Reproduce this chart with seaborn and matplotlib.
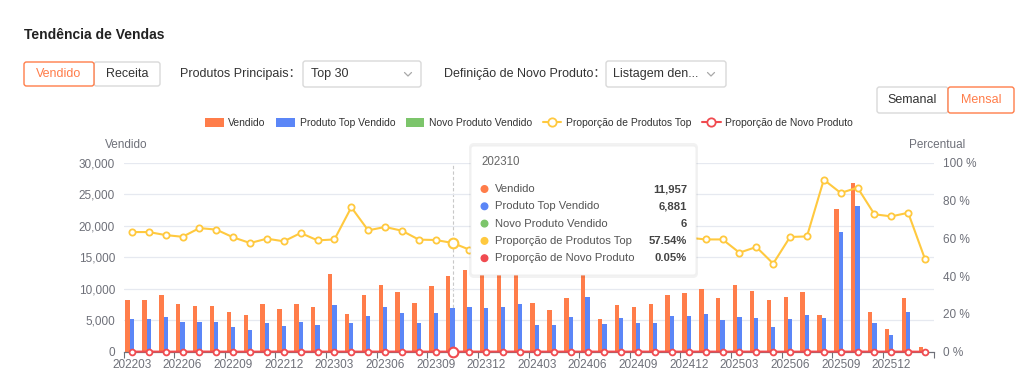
import numpy as np
import pandas as pd
import matplotlib
matplotlib.use("Agg")
import matplotlib.pyplot as plt
import seaborn as sns
from matplotlib.patches import FancyBboxPatch, Patch
from matplotlib.lines import Line2D

months = ['202203', '202204', '202205', '202206', '202207', '202208', '202209', '202210',
          '202211', '202212', '202301', '202302', '202303', '202304', '202305', '202306',
          '202307', '202308', '202309', '202310', '202311', '202312', '202401', '202402',
          '202403', '202404', '202405', '202406', '202407', '202408', '202409', '202410',
          '202411', '202412', '202501', '202502', '202503', '202504', '202505', '202506',
          '202507', '202508', '202509', '202510', '202511', '202512', '202601', '202602']

vendido = [8150, 8250, 8940, 7620, 7250, 7300, 6350, 5770, 7620, 6770, 7510, 7140,
           12280, 5980, 8940, 10640, 9520, 7780, 10370, 11957, 12960, 12800, 13100, 12600,
           7670, 6610, 8465, 12900, 5130, 7355, 7140, 7620, 8940, 9260, 9980, 8600,
           10550, 9680, 8200, 8625, 9470, 5870, 22650, 26720, 6300, 3650, 8570, 690]

top_vendido = [5185, 5240, 5555, 4656, 4760, 4710, 3860, 3390, 4550, 4020, 4710, 4180,
               7355, 4550, 5715, 7035, 6085, 4600, 6085, 6881, 7035, 6880, 7035, 7565,
               4180, 4230, 5500, 8625, 4390, 5340, 4550, 4600, 5610, 5660, 5950, 5050,
               5555, 5345, 3860, 5185, 5770, 5290, 18995, 23120, 4550, 2590, 6245, 0]

novo_vendido = [3, 5, 2, 4, 6, 3, 2, 1, 4, 5, 3, 2, 8, 3, 4, 6, 5, 3, 4, 6, 7, 5, 9, 6,
                3, 2, 4, 5, 3, 2, 4, 3, 5, 4, 6, 3, 4, 5, 3, 2, 4, 3, 12, 15, 4, 2, 3, 0]

prop_top = [63.3, 63.3, 61.7, 60.8, 65.4, 64.6, 60.5, 57.5, 59.8, 58.4, 62.8, 58.9,
            59.4, 76.4, 64.2, 66.0, 64.0, 59.3, 59.1, 57.54, 54.0, 53.8, 53.7, 60.0,
            54.5, 64.0, 65.0, 66.9, 85.6, 72.6, 63.7, 60.4, 62.7, 60.3, 59.4, 59.4,
            52.4, 55.4, 46.6, 60.7, 61.0, 91.0, 84.0, 86.8, 72.7, 71.6, 73.5, 48.9]

prop_novo = [0.04, 0.06, 0.02, 0.05, 0.08, 0.04, 0.03, 0.02, 0.05, 0.07, 0.04, 0.03,
             0.06, 0.05, 0.04, 0.06, 0.05, 0.04, 0.04, 0.05, 0.05, 0.04, 0.07, 0.05,
             0.04, 0.03, 0.05, 0.04, 0.06, 0.03, 0.06, 0.04, 0.06, 0.04, 0.06, 0.03,
             0.04, 0.05, 0.04, 0.02, 0.04, 0.05, 0.05, 0.06, 0.06, 0.05, 0.03, 0.0]

series_names = ['Vendido', 'Produto Top Vendido', 'Novo Produto Vendido']
line_names = ['Proporção de Produtos Top', 'Proporção de Novo Produto']
hover = months.index('202310')

ORANGE = '#FF7D4A'
BLUE = '#5B86F7'
GREEN = '#7CC56B'
YELLOW = '#FFC93F'
RED = '#F04B50'
AXIS_TXT = '#6E7079'
GRID = '#E6E9F0'

sns.set_theme(style='white')
plt.rcParams['font.family'] = ['Liberation Sans', 'Noto Sans CJK SC', 'DejaVu Sans']

W, H = 1024, 383
fig = plt.figure(figsize=(W / 100, H / 100), dpi=100)
fig.patch.set_facecolor('white')


def ui(x, y):
    # pixel position (from top-left) -> inches for dpi_scale_trans
    return x / 100, (H - y) / 100


def box(x0, y0, x1, y1, edge, face='white', z=2, lw=1.0):
    p = FancyBboxPatch(ui(x0, y1), (x1 - x0) / 100, (y1 - y0) / 100,
                       boxstyle='round,pad=0,rounding_size=0.025',
                       transform=fig.dpi_scale_trans, facecolor=face,
                       edgecolor=edge, linewidth=lw, zorder=z)
    fig.patches.append(p)


def label(x, y, s, color='#333333', size=9, ha='left', weight='normal', z=3):
    fig.text(*ui(x, y), s, transform=fig.dpi_scale_trans, color=color,
             fontsize=size, ha=ha, va='center', weight=weight, zorder=z)


def chevron(x, y):
    xs = [x - 3.5, x, x + 3.5]
    ys = [y - 1.5, y + 2, y - 1.5]
    pts = [ui(a, b) for a, b in zip(xs, ys)]
    ln = Line2D([p[0] for p in pts], [p[1] for p in pts],
                transform=fig.dpi_scale_trans, color='#A8A8A8', lw=0.9, zorder=5)
    fig.add_artist(ln)


# ---- header controls ----
label(24, 35, 'Tendência de Vendas', color='#222222', size=10, weight='bold')
box(94, 62, 160, 86, '#D9D9D9')
box(24, 62, 94, 86, ORANGE)
label(59, 74, 'Vendido', color=ORANGE, ha='center')
label(127, 74, 'Receita', ha='center')
label(180, 74, 'Produtos Principais：')
box(303, 61, 421, 87, '#D9D9D9')
label(311, 74, 'Top 30')
chevron(408, 74)
label(444, 74, 'Definição de Novo Produto：')
box(606, 61, 726, 87, '#D9D9D9')
label(613, 74, 'Listagem den...')
chevron(711, 74)
box(877, 87, 948, 113, '#D9D9D9')
box(948, 87, 1014, 113, ORANGE)
label(912, 100, 'Semanal', ha='center')
label(981, 100, 'Mensal', color=ORANGE, ha='center')

# ---- chart ----
ax = fig.add_axes([123.5 / W, 1 - 351.7 / H, 810 / W, 189 / H])
ax2 = ax.twinx()

df = pd.DataFrame({'mes': months, 'Vendido': vendido,
                   'Produto Top Vendido': top_vendido,
                   'Novo Produto Vendido': novo_vendido})
long = df.melt(id_vars='mes', var_name='serie', value_name='valor')
sns.barplot(data=long, x='mes', y='valor', hue='serie', hue_order=series_names,
            palette=[ORANGE, BLUE, GREEN], saturation=1, width=0.77, gap=0,
            linewidth=0, legend=False, ax=ax)

xpos = np.arange(len(months))
sns.lineplot(x=xpos, y=prop_top, ax=ax2, color=YELLOW, linewidth=1.5, marker='o',
             markersize=4.5, markerfacecolor='white', markeredgecolor=YELLOW,
             markeredgewidth=1.3, zorder=4)
sns.lineplot(x=xpos, y=prop_novo, ax=ax2, color=RED, linewidth=1.5, marker='o',
             markersize=4.2, markerfacecolor='white', markeredgecolor=RED,
             markeredgewidth=1.3, zorder=5, clip_on=False)
# hovered month
ax.axvline(hover, color='#C8C8C8', lw=0.8, ls=(0, (3, 2)), zorder=0.5)
ax2.plot([hover], [prop_top[hover]], 'o', ms=7, mfc='white', mec=YELLOW, mew=1.5, zorder=6)
ax2.plot([hover], [prop_novo[hover]], 'o', ms=7, mfc='white', mec=RED, mew=1.5,
         zorder=6, clip_on=False)

ax.set_xlim(-0.5, len(months) - 0.5)
ax.set_ylim(0, 30000)
ax2.set_ylim(0, 100)
ax.set_yticks(np.arange(0, 30001, 5000))
ax.set_yticklabels([f'{v:,}' for v in range(0, 30001, 5000)])
ax2.set_yticks(np.arange(0, 101, 20))
ax2.set_yticklabels([f'{v} %' for v in range(0, 101, 20)])
ax.yaxis.grid(True, color=GRID, lw=0.9)
ax.set_axisbelow(True)
ax.set_xlabel('')
ax.set_ylabel('')
ax2.set_ylabel('')

tick_idx = list(range(0, len(months), 3))
ax.set_xticks(tick_idx)
ax.set_xticklabels([months[i] for i in tick_idx])
ax.set_xticks([i - 0.5 for i in tick_idx] + [len(months) - 0.5], minor=True)
ax.tick_params(axis='x', which='major', length=0, pad=5, labelsize=8.5, labelcolor=AXIS_TXT)
ax.tick_params(axis='x', which='minor', length=4, width=0.8, color=AXIS_TXT, bottom=True)
ax.tick_params(axis='y', length=0, pad=6, labelsize=8.5, labelcolor=AXIS_TXT)
ax2.tick_params(axis='y', length=0, pad=7, labelsize=8.5, labelcolor=AXIS_TXT)
for a in (ax, ax2):
    for s in ('top', 'left', 'right'):
        a.spines[s].set_visible(False)
    a.spines['bottom'].set_color(AXIS_TXT)
    a.spines['bottom'].set_linewidth(0.8)
ax.set_facecolor('none')

label(105, 145, 'Vendido', color=AXIS_TXT, size=8.5)
label(909, 145, 'Percentual', color=AXIS_TXT, size=8.5)

# ---- legend ----
handles = [Patch(facecolor=ORANGE, edgecolor='none'),
           Patch(facecolor=BLUE, edgecolor='none'),
           Patch(facecolor=GREEN, edgecolor='none'),
           Line2D([], [], color=YELLOW, lw=1.5, marker='o', ms=6, mfc='white', mec=YELLOW, mew=1.3),
           Line2D([], [], color=RED, lw=1.5, marker='o', ms=6, mfc='white', mec=RED, mew=1.3)]
leg = fig.legend(handles, series_names + line_names, loc='center', ncol=5,
                 bbox_to_anchor=(529 / W, 1 - 123 / H), frameon=False, fontsize=7.5,
                 handlelength=1.8, handleheight=1.0, handletextpad=0.45,
                 columnspacing=1.0, labelcolor='#333333')

# ---- tooltip ----
shadow = FancyBboxPatch(ui(469, 278), 229 / 100, 135 / 100,
                        boxstyle='round,pad=0,rounding_size=0.05',
                        transform=fig.dpi_scale_trans, facecolor='#000000', alpha=0.05,
                        edgecolor='none', zorder=8)
fig.patches.append(shadow)
box(471, 146, 696, 275, '#EEEEEE', z=9, lw=0.6)
label(481, 162, months[hover], color='#666666', size=8.3, z=10)
rows = [(series_names[0], ORANGE, f'{vendido[hover]:,}'),
        (series_names[1], BLUE, f'{top_vendido[hover]:,}'),
        (series_names[2], GREEN, f'{novo_vendido[hover]:,}'),
        (line_names[0], YELLOW, f'{prop_top[hover]:.2f}%'),
        (line_names[1], RED, f'{prop_novo[hover]:.2f}%')]
for k, (name, col, val) in enumerate(rows):
    yy = 189 + k * 17.3
    fig.patches.append(plt.Circle(ui(484.5, yy), 0.033, transform=fig.dpi_scale_trans,
                                  color=col, zorder=10))
    label(495, yy, name, color='#555555', size=8.1, z=10)
    label(687, yy, val, color='#444444', size=8.1, ha='right', weight='bold', z=10)

fig.savefig('out.png', dpi=100, facecolor='white')
